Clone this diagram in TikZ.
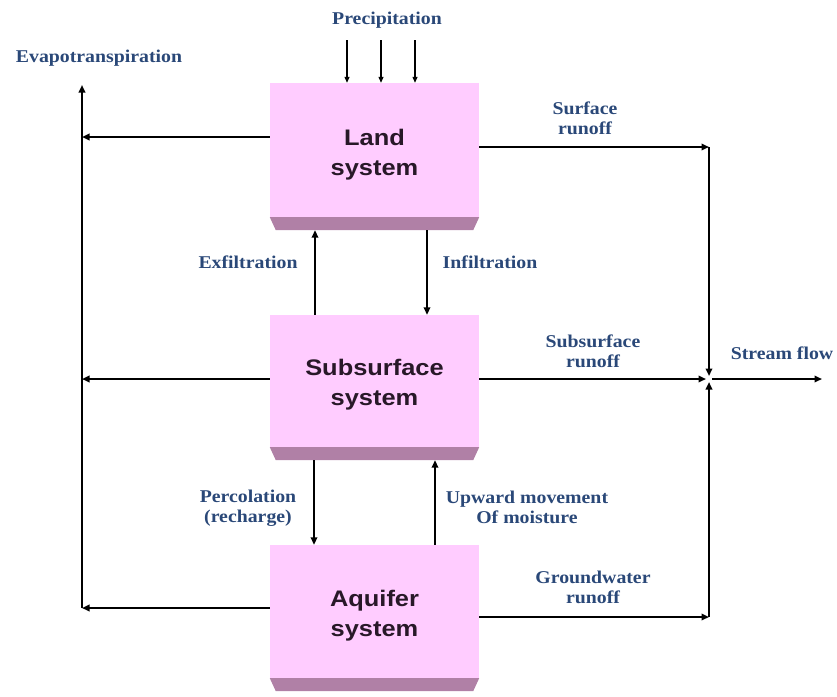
\documentclass[tikz,border=0pt]{standalone}
\usepackage{fontspec}
\setmainfont{Liberation Serif}[FakeStretch=1.1]
\newfontfamily\boxfont{Liberation Sans}[FakeStretch=1.13]
\usetikzlibrary{arrows.meta, calc}

\definecolor{boxpink}{RGB}{255,204,255}
\definecolor{boxshade}{RGB}{176,128,166}
\definecolor{boxtext}{RGB}{40,24,40}
\definecolor{labelblue}{RGB}{42,72,120}

\begin{document}
\begin{tikzpicture}[x=1pt, y=-1pt, >={Triangle[length=7.5pt, width=6.5pt]}]

    % Define styles
    \tikzset{
        sysbox/.style={fill=boxpink, draw=none, minimum width=209pt, inner sep=0pt},
        systext/.style={align=center, text=boxtext, inner sep=0pt,
            font=\boxfont\bfseries\fontsize{22.5}{30}\selectfont},
        shade/.style={fill=boxshade, draw=none},
        flow/.style={->, line width=2.8pt, black},
        rain/.style={->, line width=1.2pt, black, >={Triangle[length=6pt, width=5pt]}},
        bluelabel/.style={labelblue, align=center, font=\bfseries\fontsize{18}{20}\selectfont}
    }

    \useasboundingbox (0,0) rectangle (837,696);

    % 1. Boxes
    \node[sysbox, minimum height=134pt] (land) at (374.5,150) {};
    \node[sysbox, minimum height=132pt] (sub) at (374.5,381) {};
    \node[sysbox, minimum height=133pt] (aqu) at (374.5,611.5) {};

    \node[systext] (landText) at ($(land.center)+(0,5)$) {Land\\system};
    \node[systext] (subText) at ($(sub.center)+(0,4)$) {Subsurface\\system};
    \node[systext] (aquText) at ($(aqu.center)+(0,4)$) {Aquifer\\system};

    % bottom faces
    \foreach \b in {land, sub, aqu} {
        \fill[shade] (\b.south west) -- (\b.south east) -- ++(-6,13) -- ($(\b.south west)+(6,13)$) -- cycle;
    }

    % 2. Coordinates
    \coordinate (etTop) at (82,85);
    \coordinate (etLand) at (82,137);
    \coordinate (etSub) at (82,379);
    \coordinate (etAqu) at (82,608);
    \coordinate (srEnd) at (709,147);
    \coordinate (junction) at (709,379);
    \coordinate (gwEnd) at (709,617);
    \coordinate (sfEnd) at (822,379);

    % 3. Precipitation
    \foreach \px in {347, 381, 415} {
        \coordinate (p\px) at (\px,40);
        \draw[rain] (p\px) -- (land.north -| p\px);
    }
    \node[bluelabel] (precip) at (387,20) {Precipitation};

    % 4. Evapotranspiration (left)
    \draw[flow] (land.west |- etLand) -- (etLand);
    \draw[flow] (sub.west |- etSub) -- (etSub);
    \draw[flow] (aqu.west |- etAqu) -- (etAqu);
    \draw[line width=2.8pt] (etAqu) -- (etLand);
    \draw[flow] (etLand) -- (etTop);
    \node[bluelabel] (evapo) at (99,58) {Evapotranspiration};

    % 5. Runoff to stream (right)
    \draw[flow] (land.east |- srEnd) -- (srEnd);
    \draw[flow, shorten >=3pt] (srEnd) -- (junction);
    \draw[flow, shorten >=3pt] (sub.east |- junction) -- (junction);
    \draw[flow] (aqu.east |- gwEnd) -- (gwEnd);
    \draw[flow, shorten >=3pt] (gwEnd) -- (junction);
    \draw[flow, shorten <=3pt] (junction) -- (sfEnd);

    \node[bluelabel] (surfRun) at (585,118) {Surface\\runoff};
    \node[bluelabel] (subRun) at (593,351) {Subsurface\\runoff};
    \node[bluelabel] (gwRun) at (593,587) {Groundwater\\runoff};
    \node[bluelabel] (stream) at (782,353) {Stream flow};

    % 6. Exchanges between boxes
    \coordinate (exf) at (315,0);
    \coordinate (inf) at (427,0);
    \coordinate (perc) at (314,0);
    \coordinate (upw) at (435,0);
    \draw[flow] (sub.north -| exf) -- ($(land.south -| exf)+(0,13)$);
    \draw[flow] ($(land.south -| inf)+(0,13)$) -- (sub.north -| inf);
    \draw[flow] ($(sub.south -| perc)+(0,13)$) -- (aqu.north -| perc);
    \draw[flow] (aqu.north -| upw) -- ($(sub.south -| upw)+(0,13)$);

    \node[bluelabel] (exfText) at (248,262) {Exfiltration};
    \node[bluelabel] (infText) at (490,262) {Infiltration};
    \node[bluelabel] (percText) at (248,508) {Percolation\\(recharge)};
    \node[bluelabel] (upwText) at (527,507) {Upward movement\\Of moisture};

\end{tikzpicture}
\end{document}
